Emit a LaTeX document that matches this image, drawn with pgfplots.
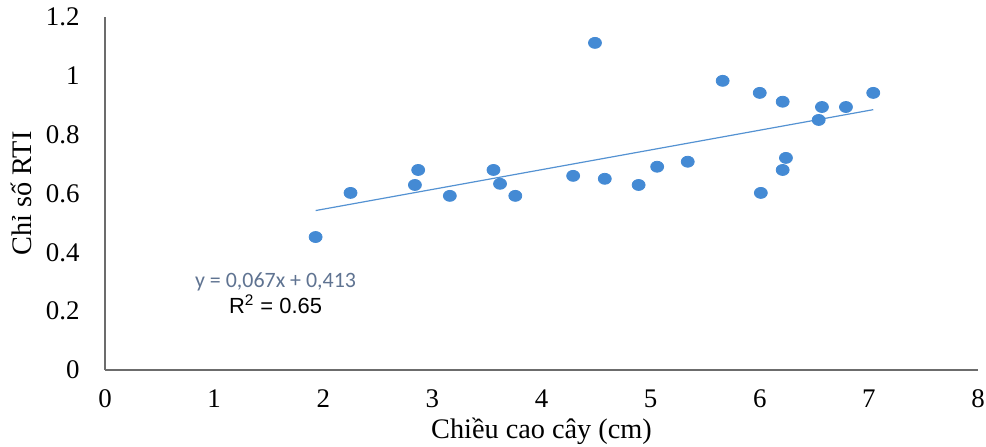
\documentclass[border=0pt]{standalone}
\usepackage{pgfplots}
\pgfplotsset{compat=1.18}
\usepackage{fontspec}
\setmainfont{Liberation Serif}
\newfontfamily\carlito{Carlito}
\newfontfamily\arial{Liberation Sans}
\definecolor{dotblue}{RGB}{68,138,212}
\definecolor{lineblue}{RGB}{84,146,210}
\definecolor{eqcol}{RGB}{95,115,145}
\begin{document}
\begin{tikzpicture}
\begin{axis}[
  name=ax,
  scale only axis, width=436.5bp, height=176.5bp,
  xmin=0, xmax=8, ymin=0, ymax=1.2,
  axis x line=bottom, axis y line=left,
  axis line style={-, draw=gray!85!black, line width=0.8bp},
  xtick={0,1,2,3,4,5,6,7,8}, ytick={0,0.2,0.4,0.6,0.8,1,1.2},
  major tick length=0pt,
  /pgf/number format/assume math mode=true,
  ticklabel style={font=\fontsize{13.5}{16}\selectfont},
  yticklabel style={anchor=east, inner sep=0pt, xshift=-12.5bp},
  xticklabel style={anchor=north, inner sep=0pt, yshift=-9.5bp},
  xlabel={Chiều cao cây (cm)},
  ylabel={Chỉ số RTI},
  label style={font=\fontsize{14.2}{17}\selectfont},
  xlabel style={at={(axis description cs:0.5,-0.194)}, anchor=base},
  ylabel style={at={(axis description cs:-0.0962,0.5)}, anchor=center},
  clip=false,
]
\addplot[only marks, color=dotblue, mark=*, mark size=2.75bp,
  mark options={xscale=1.18, draw=dotblue, fill=dotblue}] coordinates {
  (1.93,0.452) (2.25,0.602) (2.84,0.629) (2.87,0.680) (3.16,0.592)
  (3.56,0.680) (3.62,0.633) (3.76,0.592) (4.29,0.660) (4.49,1.112)
  (4.58,0.650) (4.89,0.629) (5.06,0.691) (5.34,0.708) (5.66,0.983)
  (6.00,0.942) (6.01,0.602) (6.21,0.912) (6.24,0.721) (6.21,0.680)
  (6.54,0.850) (6.57,0.894) (6.79,0.894) (7.04,0.942)
};
\addplot[lineblue, line width=0.6bp, no markers] coordinates {
  (1.93,0.542) (7.04,0.885)
};
\node[font=\carlito\fontsize{11}{13}\selectfont, text=eqcol] at (axis cs:1.5625,0.299) {y = 0,067x + 0,413};
\node[font=\arial\fontsize{11}{13}\selectfont] at (axis cs:1.5625,0.224) {R\textsuperscript{2} = 0.65};
\end{axis}
\pgfresetboundingbox
\path[use as bounding box] ([xshift=-52.5bp,yshift=-38.5bp]ax.south west) rectangle ([xshift=4bp,yshift=8.5bp]ax.north east);
\end{tikzpicture}
\end{document}
